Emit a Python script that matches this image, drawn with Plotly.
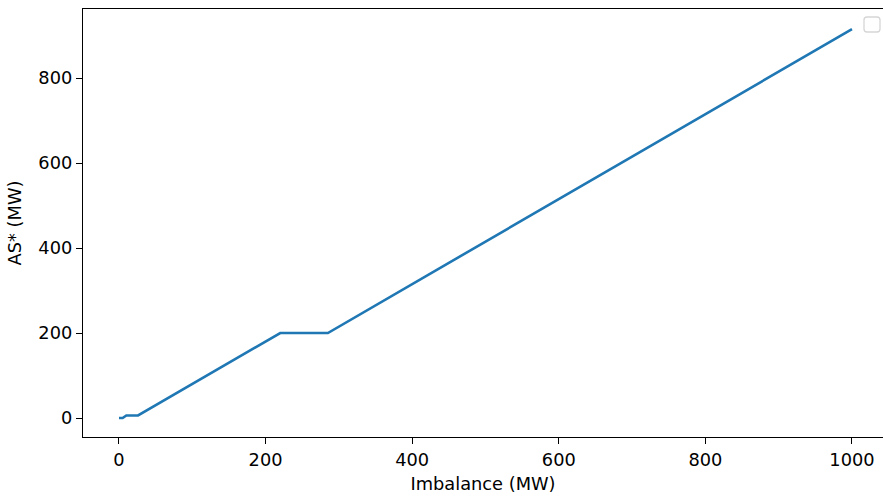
import plotly.graph_objects as go

imbalance = [0, 5, 10, 26, 220, 285, 1000]
as_star = [0, 0, 6, 6, 200, 200, 915]
x_ticks = [0, 200, 400, 600, 800, 1000]
y_ticks = [0, 200, 400, 600, 800]

FONT = "DejaVu Sans"
FS = 17.8
W, H = 883, 498
L, R, T, B = 83, 0, 9, 61

fig = go.Figure()
fig.add_trace(go.Scatter(x=imbalance, y=as_star, mode="lines",
                         line=dict(color="#1f77b4", width=2.6),
                         showlegend=False, hoverinfo="skip"))

axis_common = dict(showgrid=False, zeroline=False, showline=True,
                   linecolor="black", linewidth=1.3, ticks="outside",
                   ticklen=6, tickwidth=1.3, tickcolor="black",
                   tickfont=dict(family=FONT, size=FS, color="black"))

fig.update_xaxes(range=[-49.1, 1042.3], tickvals=x_ticks,
                 ticktext=[str(v) for v in x_ticks], mirror=True,
                 title=dict(text="Imbalance (MW)", standoff=9,
                            font=dict(family=FONT, size=FS, color="black")),
                 **axis_common)
fig.update_yaxes(range=[-44.7, 962.4], tickvals=y_ticks,
                 ticktext=[str(v) for v in y_ticks], mirror=False,
                 title=dict(text="AS* (MW)", standoff=12,
                            font=dict(family=FONT, size=FS, color="black")),
                 **axis_common)

# empty legend box (top-right, partially cut)
pw, ph = W - L - R, H - T - B
def px_x(v):
    return (v - L) / pw
def px_y(v):
    return (H - B - v) / ph
x0, x1, y0, y1, r = 864, 880, 17, 32, 3
path = (f"M {px_x(x0 + r)} {px_y(y0)} L {px_x(x1 - r)} {px_y(y0)} "
        f"Q {px_x(x1)} {px_y(y0)} {px_x(x1)} {px_y(y0 + r)} "
        f"L {px_x(x1)} {px_y(y1 - r)} Q {px_x(x1)} {px_y(y1)} {px_x(x1 - r)} {px_y(y1)} "
        f"L {px_x(x0 + r)} {px_y(y1)} Q {px_x(x0)} {px_y(y1)} {px_x(x0)} {px_y(y1 - r)} "
        f"L {px_x(x0)} {px_y(y0 + r)} Q {px_x(x0)} {px_y(y0)} {px_x(x0 + r)} {px_y(y0)} Z")
fig.add_shape(type="path", xref="paper", yref="paper", path=path,
              line=dict(color="#d6d6d6", width=1.3), fillcolor="rgba(255,255,255,0.8)")

fig.update_layout(width=W, height=H, autosize=False,
                  margin=dict(l=L, r=R, t=T, b=B, pad=0),
                  paper_bgcolor="white", plot_bgcolor="white",
                  font=dict(family=FONT, size=FS, color="black"),
                  showlegend=False)

fig.write_html("out.html")
